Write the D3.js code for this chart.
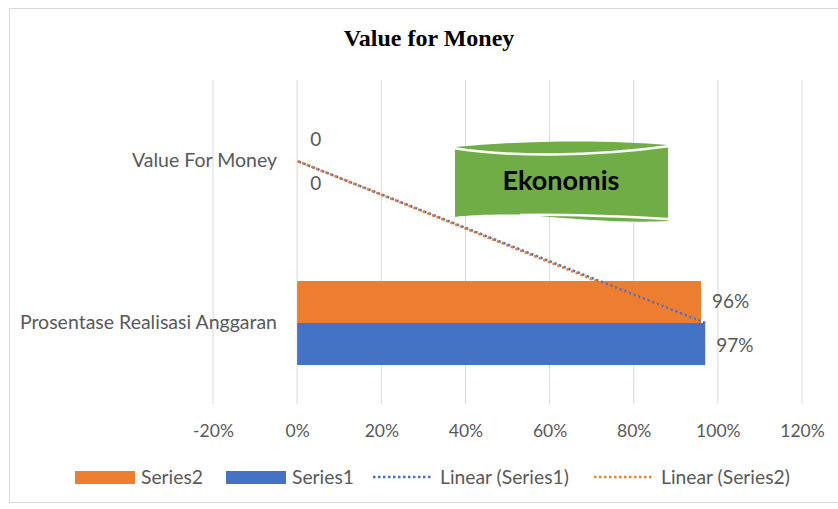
<!DOCTYPE html>
<html>
<head>
<meta charset="UTF-8"/>
<style>
  body { margin: 0; background: #fff; }
  text { font-family: Lato, "Open Sans", sans-serif; }
</style>
</head>
<body>
<script src="https://d3js.org/d3.v7.min.js"></script>
<script>
  // chart values
  var categories = ["Prosentase Realisasi Anggaran", "Value For Money"];
  var series1 = [0.97, 0];
  var series2 = [0.96, 0];
  var seriesNames = ["Series2", "Series1"];
  var xTicks = [-0.2, 0, 0.2, 0.4, 0.6, 0.8, 1.0, 1.2];
  var labels1 = ["97%", "0"];
  var labels2 = ["96%", "0"];

  var width = 838, height = 509;
  var orange = "#ED7D31", blue = "#4472C4", grey = "#595959";

  var svg = d3.select("body").append("svg")
    .attr("width", width)
    .attr("height", height);

  // chart frame
  svg.append("rect")
    .attr("x", 9.5).attr("y", 8.5)
    .attr("width", 840).attr("height", 494)
    .attr("fill", "none").attr("stroke", "#d9d9d9");

  svg.append("text")
    .attr("x", 429).attr("y", 46)
    .attr("text-anchor", "middle")
    .style("font-family", "'Liberation Serif', 'Times New Roman', serif")
    .style("font-weight", "bold")
    .style("font-size", "24px")
    .text("Value for Money");

  var x = d3.scaleLinear().domain([-0.2, 1.2]).range([213, 802]);
  var y = d3.scaleBand().domain(categories).range([404, 80])
    .paddingInner(0.4815).paddingOuter(0.2407);
  var ySub = d3.scaleBand().domain(seriesNames).range([0, y.bandwidth()]);

  // gridlines
  svg.append("g").selectAll("line").data(xTicks).join("line")
    .attr("x1", d => x(d)).attr("x2", d => x(d))
    .attr("y1", 80).attr("y2", 404)
    .attr("stroke", "#d9d9d9").attr("stroke-width", 1);

  // x axis labels
  var xAxis = svg.append("g")
    .attr("transform", "translate(0,404)")
    .call(d3.axisBottom(x).tickValues(xTicks)
      .tickFormat(d => Math.round(d * 100) + "%")
      .tickSize(0).tickPadding(21));
  xAxis.select(".domain").remove();
  xAxis.selectAll("text").attr("fill", grey).style("font-size", "17.5px")
    .style("font-family", "Lato, sans-serif");

  // category labels
  var yAxis = svg.append("g")
    .attr("transform", "translate(297,0)")
    .call(d3.axisLeft(y).tickSize(0).tickPadding(20));
  yAxis.select(".domain").remove();
  yAxis.selectAll("text").attr("fill", grey).style("font-size", "19.5px")
    .style("font-family", "Lato, sans-serif");

  var seriesData = [
    { name: "Series2", values: series2, labels: labels2, color: orange },
    { name: "Series1", values: series1, labels: labels1, color: blue }
  ];

  // bars
  seriesData.forEach(function (s) {
    svg.append("g").selectAll("rect").data(categories).join("rect")
      .attr("x", x(0))
      .attr("y", (c) => y(c) + ySub(s.name))
      .attr("width", (c, i) => x(s.values[i]) - x(0))
      .attr("height", ySub.bandwidth())
      .attr("fill", s.color);
  });

  // data labels
  seriesData.forEach(function (s) {
    svg.append("g").selectAll("text").data(categories).join("text")
      .attr("x", (c, i) => x(s.values[i]) + (s.values[i] > 0 ? 11 : 13))
      .attr("y", (c) => y(c) + ySub(s.name) + ySub.bandwidth() / 2 + (s.name === "Series2" ? -1 : 1))
      .attr("dy", "0.35em")
      .attr("fill", grey)
      .style("font-size", "19px")
      .text((c, i) => s.labels[i]);
  });

  // linear trendlines (category centre to category centre)
  var line = d3.line()
    .x(d => x(d.v))
    .y(d => y(d.c) + y.bandwidth() / 2);
  seriesData.slice().reverse().forEach(function (s, k) {
    svg.append("path")
      .datum(categories.map((c, i) => ({ c: c, v: s.values[i] })))
      .attr("d", line)
      .attr("fill", "none")
      .attr("stroke", s.color)
      .attr("stroke-width", 2.5)
      .attr("stroke-dasharray", "2.5,2.5")
      .attr("stroke-dashoffset", k * 2.5);
  });

  // "Ekonomis" double-wave shape
  svg.append("path")
    .attr("d", "M455,147 C530,140 610,140 668,145 L668,221 C630,223 580,220 530,215 C500,214 470,215 455,217 Z")
    .attr("fill", "#70AD47");
  svg.append("path")
    .attr("d", "M453,148 C510,157 590,157 670,146")
    .attr("fill", "none").attr("stroke", "#fff").attr("stroke-width", 2.5);
  svg.append("path")
    .attr("d", "M520,215 C580,214 630,217 670,219")
    .attr("fill", "none").attr("stroke", "#fff").attr("stroke-width", 2.5);
  svg.append("text")
    .attr("x", 561).attr("y", 181)
    .attr("dy", "0.35em")
    .attr("text-anchor", "middle")
    .style("font-weight", "bold")
    .style("font-size", "27px")
    .attr("fill", "#000")
    .text("Ekonomis");

  // legend
  var legendItems = [
    { label: "Series2", color: orange, type: "rect", x: 75 },
    { label: "Series1", color: blue, type: "rect", x: 226 },
    { label: "Linear (Series1)", color: blue, type: "line", x: 373 },
    { label: "Linear (Series2)", color: orange, type: "line", x: 594 }
  ];
  var lg = svg.append("g").selectAll("g").data(legendItems).join("g")
    .attr("transform", d => "translate(" + d.x + ",477)");
  lg.filter(d => d.type === "rect").append("rect")
    .attr("x", 0).attr("y", -6).attr("width", 60).attr("height", 13)
    .attr("fill", d => d.color);
  lg.filter(d => d.type === "line").append("line")
    .attr("x1", 0).attr("x2", 60).attr("y1", 0).attr("y2", 0)
    .attr("stroke", d => d.color).attr("stroke-width", 2.5)
    .attr("stroke-dasharray", "2.5,2.5");
  lg.append("text")
    .attr("x", d => d.type === "rect" ? 66 : 67)
    .attr("y", 0).attr("dy", "0.35em")
    .attr("fill", grey).style("font-size", "19.3px")
    .text(d => d.label);
</script>
</body>
</html>
